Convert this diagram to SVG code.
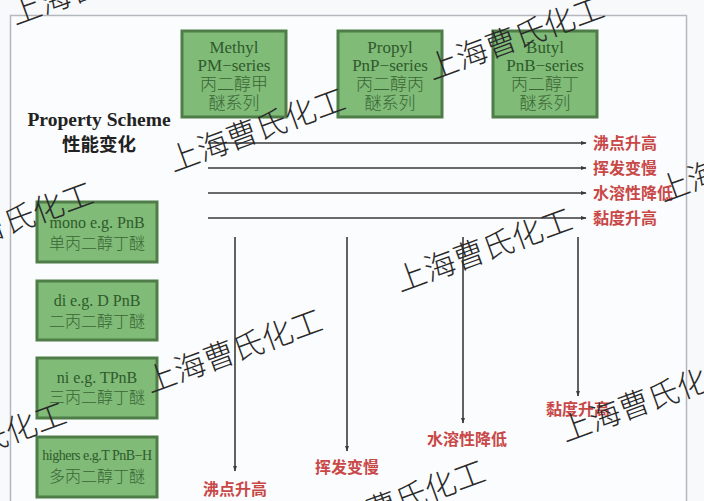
<svg xmlns="http://www.w3.org/2000/svg" width="704" height="501" viewBox="0 0 704 501">
<style>
.box{fill:#80bb78;stroke:#4f7d48;stroke-width:3}
.bt{font-family:"Liberation Serif","Noto Sans CJK SC",serif;fill:#2f5a2b;text-anchor:middle}
.cn{font-family:"Noto Sans CJK SC",sans-serif;font-weight:300;fill:#3a6635;text-anchor:middle}
.red{font-family:"Noto Sans CJK SC",sans-serif;font-weight:bold;fill:#c84848;font-size:16px}
.ln{stroke:#3a3a3a;stroke-width:1.6;fill:none}
.wm{font-family:"Noto Sans CJK SC",sans-serif;font-weight:300;font-size:31px;fill:#2a2a2a}
</style>
<defs>
<marker id="ah" viewBox="0 0 10 10" refX="9" refY="5" markerWidth="6" markerHeight="6" orient="auto" markerUnits="userSpaceOnUse">
<path d="M0,1.5 L10,5 L0,8.5 z" fill="#3a3a3a"/>
</marker>
</defs>
<rect x="0" y="0" width="704" height="501" fill="#f7f9fb"/>
<rect x="10.5" y="15.5" width="676" height="490" fill="#fbfcfd" stroke="#b4b8bd" stroke-width="1.5"/>

<g id="methyl">
<rect class="box" x="182" y="31" width="104" height="86"/>
<text class="bt" x="234" y="53" font-size="17">Methyl</text>
<text class="bt" x="234" y="71" font-size="17">PM−series</text>
<text class="cn" x="234" y="90" font-size="17">丙二醇甲</text>
<text class="cn" x="234" y="109" font-size="17">醚系列</text>
</g>
<g id="propyl">
<rect class="box" x="338" y="31" width="104" height="86"/>
<text class="bt" x="390" y="53" font-size="17">Propyl</text>
<text class="bt" x="390" y="71" font-size="17">PnP−series</text>
<text class="cn" x="390" y="90" font-size="17">丙二醇丙</text>
<text class="cn" x="390" y="109" font-size="17">醚系列</text>
</g>
<g id="butyl">
<rect class="box" x="493" y="31" width="104" height="86"/>
<text class="bt" x="545" y="53" font-size="17">Butyl</text>
<text class="bt" x="545" y="71" font-size="17">PnB−series</text>
<text class="cn" x="545" y="90" font-size="17">丙二醇丁</text>
<text class="cn" x="545" y="109" font-size="17">醚系列</text>
</g>

<g id="title">
<text x="99" y="126" font-family="Liberation Serif,serif" font-weight="bold" font-size="19.5" fill="#222" text-anchor="middle">Property Scheme</text>
<text x="99" y="151" font-family="Noto Sans CJK SC,sans-serif" font-weight="bold" font-size="18.5" fill="#222" text-anchor="middle">性能变化</text>
</g>

<g id="mono">
<rect class="box" x="37" y="202" width="120" height="60"/>
<text class="bt" x="97" y="228" font-size="16">mono e.g. PnB</text>
<text class="cn" x="97" y="249" font-size="16">单丙二醇丁醚</text>
</g>
<g id="di">
<rect class="box" x="37" y="281" width="120" height="59"/>
<text class="bt" x="97" y="306" font-size="16">di e.g. D PnB</text>
<text class="cn" x="97" y="327" font-size="16">二丙二醇丁醚</text>
</g>
<g id="tri">
<rect class="box" x="37" y="358" width="120" height="60"/>
<text class="bt" x="97" y="383" font-size="16">ni e.g. TPnB</text>
<text class="cn" x="97" y="403" font-size="16">三丙二醇丁醚</text>
</g>
<g id="highers">
<rect class="box" x="37" y="437" width="120" height="60"/>
<text class="bt" x="97" y="460" font-size="14" letter-spacing="-0.5">highers e.g.T PnB−H</text>
<text class="cn" x="97" y="482" font-size="16">多丙二醇丁醚</text>
</g>

<g id="connectors">
<line class="ln" x1="208" y1="143" x2="586" y2="143" marker-end="url(#ah)"/>
<line class="ln" x1="208" y1="168" x2="586" y2="168" marker-end="url(#ah)"/>
<line class="ln" x1="208" y1="193" x2="586" y2="193" marker-end="url(#ah)"/>
<line class="ln" x1="208" y1="218" x2="586" y2="218" marker-end="url(#ah)"/>
<line class="ln" x1="235" y1="237" x2="235" y2="471" marker-end="url(#ah)"/>
<line class="ln" x1="347" y1="237" x2="347" y2="451" marker-end="url(#ah)"/>
<line class="ln" x1="463" y1="237" x2="463" y2="423" marker-end="url(#ah)"/>
<line class="ln" x1="578" y1="237" x2="578" y2="396" marker-end="url(#ah)"/>
</g>

<g id="labels">
<text class="red" x="593" y="149">沸点升高</text>
<text class="red" x="593" y="174">挥发变慢</text>
<text class="red" x="593" y="199">水溶性降低</text>
<text class="red" x="593" y="224">黏度升高</text>
<text class="red" x="203" y="495">沸点升高</text>
<text class="red" x="315" y="473">挥发变慢</text>
<text class="red" x="427" y="445">水溶性降低</text>
<text class="red" x="546" y="415">黏度升高</text>
</g>

<g id="watermarks">
<text class="wm" transform="translate(15,25) rotate(-20)">上海曹氏化工</text>
<text class="wm" transform="translate(173,172) rotate(-20)">上海曹氏化工</text>
<text class="wm" transform="translate(432,80) rotate(-20)">上海曹氏化工</text>
<text class="wm" transform="translate(663,202) rotate(-20)">上海曹氏化工</text>
<text class="wm" transform="translate(-79,266) rotate(-20)">上海曹氏化工</text>
<text class="wm" transform="translate(400,292) rotate(-20)">上海曹氏化工</text>
<text class="wm" transform="translate(150,393) rotate(-20)">上海曹氏化工</text>
<text class="wm" transform="translate(-106,486) rotate(-20)">上海曹氏化工</text>
<text class="wm" transform="translate(565,442) rotate(-20)">上海曹氏化工</text>
<text class="wm" transform="translate(313,544) rotate(-20)">上海曹氏化工</text>
</g>
</svg>
